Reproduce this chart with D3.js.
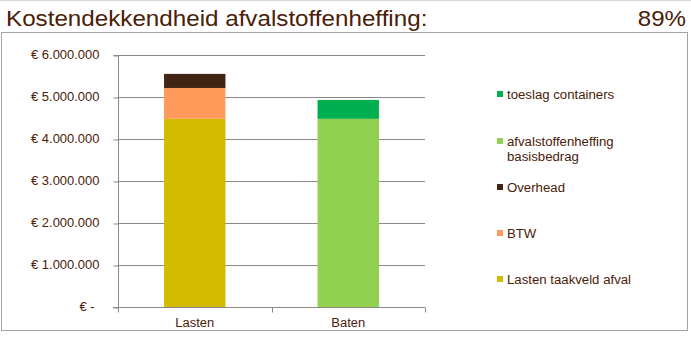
<!DOCTYPE html>
<html>
<head>
<meta charset="utf-8">
<script src="https://cdn.jsdelivr.net/npm/d3@7"></script>
<style>
  html, body { margin: 0; padding: 0; background: #fff; }
  svg { display: block; font-family: "Liberation Sans", Arial, sans-serif; }
</style>
</head>
<body>
<svg id="chart" width="691" height="339"></svg>
<script>
// Categories on the x axis
const categories = ["Lasten", "Baten"];
// Stacked series, bottom to top, values in euros per category
const seriesNames = ["Lasten taakveld afval", "BTW", "Overhead", "afvalstoffenheffing basisbedrag", "toeslag containers"];
const seriesColors = ["#D4BB00", "#FF9A5B", "#412413", "#92D050", "#00B050"];
const lastenTaakveld = [4480000, 0];
const btw = [735000, 0];
const overhead = [335000, 0];
const basisbedrag = [0, 4480000];
const toeslag = [0, 450000];
const yTicks = [0, 1000000, 2000000, 3000000, 4000000, 5000000, 6000000];
const titleText = "Kostendekkendheid afvalstoffenheffing:";

const seriesValues = [lastenTaakveld, btw, overhead, basisbedrag, toeslag];
const totals = categories.map((c, i) => d3.sum(seriesValues, s => s[i]));
const coverage = totals[1] / totals[0];

const svg = d3.select("#chart");
const textColor = "#4A2008";

// Widen text horizontally, the way the spreadsheet renderer spaces its glyphs
function widen(sel, factor) {
  sel.each(function () {
    const w = this.getComputedTextLength();
    d3.select(this).attr("textLength", w * factor).attr("lengthAdjust", "spacingAndGlyphs");
  });
}

// Title row
svg.append("line").attr("x1", 0).attr("x2", 691).attr("y1", 0.5).attr("y2", 0.5)
  .attr("stroke", "#d8d8d8");
const title = svg.append("text").attr("x", 6).attr("y", 26)
  .attr("font-size", 21.5).attr("fill", textColor).text(titleText);
widen(title, 1.125);
const pct = svg.append("text").attr("x", 686).attr("y", 26).attr("text-anchor", "end")
  .attr("font-size", 21.5).attr("fill", textColor)
  .text(d3.format(".0%")(coverage));
widen(pct, 1.12);

// Chart frame
svg.append("rect").attr("x", 1.5).attr("y", 32.5).attr("width", 686).attr("height", 298)
  .attr("fill", "none").attr("stroke", "#a6a0a0");

const plot = { left: 118, right: 425, top: 55, bottom: 307 };

const x = d3.scaleBand().domain(categories).range([plot.left, plot.right]).paddingInner(0.6).paddingOuter(0.3);
const xOuter = d3.scaleBand().domain(categories).range([plot.left, plot.right]);
const y = d3.scaleLinear().domain([0, 6000000]).range([plot.bottom, plot.top]);

const gridColor = "#8E8787";

// Horizontal gridlines
svg.append("g").selectAll("line").data(yTicks.filter(d => d > 0)).join("line")
  .attr("x1", plot.left).attr("x2", plot.right)
  .attr("y1", d => Math.round(y(d)) + 0.5).attr("y2", d => Math.round(y(d)) + 0.5)
  .attr("stroke", gridColor);

// Stacked bars
const rows = categories.map((c, i) => {
  const r = { cat: c };
  seriesNames.forEach((n, k) => r[n] = seriesValues[k][i]);
  return r;
});
const stack = d3.stack().keys(seriesNames)(rows);
svg.append("g").selectAll("g").data(stack).join("g")
  .attr("fill", (d, k) => seriesColors[k])
  .selectAll("rect").data(d => d.filter(p => p[1] - p[0] > 0)).join("rect")
  .attr("x", d => x(d.data.cat))
  .attr("width", x.bandwidth())
  .attr("y", d => y(d[1]))
  .attr("height", d => y(d[0]) - y(d[1]));

// Y axis
const yAxis = d3.axisLeft(y).tickValues(yTicks).tickSize(5).tickPadding(14)
  .tickFormat(d => d === 0 ? "€ -" : "€ " + d3.format(",")(d).replace(/,/g, "."));
const gy = svg.append("g").attr("transform", `translate(${plot.left + 0.5},0)`).call(yAxis);
gy.select(".domain").attr("stroke", gridColor).attr("d", `M-5,${plot.top + 0.5}H0V${plot.bottom + 0.5}H-5`);
gy.selectAll(".tick line").attr("stroke", gridColor).attr("transform", "translate(0,0.5)");
gy.selectAll(".tick text").attr("font-size", 12).attr("fill", textColor)
  .attr("font-family", "Liberation Sans, Arial, sans-serif")
  .attr("dx", d => d === 0 ? -5 : 0);
widen(gy.selectAll(".tick text"), 1.08);

// X axis
const xAxis = d3.axisBottom(xOuter).tickSize(0).tickPadding(11);
const gx = svg.append("g").attr("transform", `translate(0,${plot.bottom + 0.5})`).call(xAxis);
gx.select(".domain").attr("stroke", gridColor).attr("d", `M${plot.left - 5},0H${plot.right}`);
gx.selectAll(".tick text").attr("font-size", 12).attr("fill", textColor)
  .attr("font-family", "Liberation Sans, Arial, sans-serif");
widen(gx.selectAll(".tick text"), 1.08);
// Category boundary ticks
const boundaries = [plot.left, ...categories.map(c => xOuter(c) + xOuter.bandwidth())];
gx.append("g").selectAll("line").data(boundaries).join("line")
  .attr("x1", d => Math.round(d) + 0.5).attr("x2", d => Math.round(d) + 0.5)
  .attr("y1", 0).attr("y2", 5).attr("stroke", gridColor);

// Legend (top series first)
const legendItems = [
  { k: 4, y: 94 },
  { k: 3, y: 141, lines: ["afvalstoffenheffing", "basisbedrag"] },
  { k: 2, y: 187 },
  { k: 1, y: 233 },
  { k: 0, y: 279 }
];
const lg = svg.append("g");
legendItems.forEach(it => {
  lg.append("rect").attr("x", 497).attr("y", it.y - 3).attr("width", 6).attr("height", 6)
    .attr("fill", seriesColors[it.k]);
  const t = lg.append("text").attr("x", 507).attr("y", it.y + 4.5)
    .attr("font-size", 12).attr("fill", textColor);
  const lines = it.lines || [seriesNames[it.k]];
  lines.forEach((l, j) => t.append("tspan").attr("x", 507).attr("dy", j ? 15 : 0).text(l));
  widen(t.selectAll("tspan"), 1.1);
});
</script>
</body>
</html>
